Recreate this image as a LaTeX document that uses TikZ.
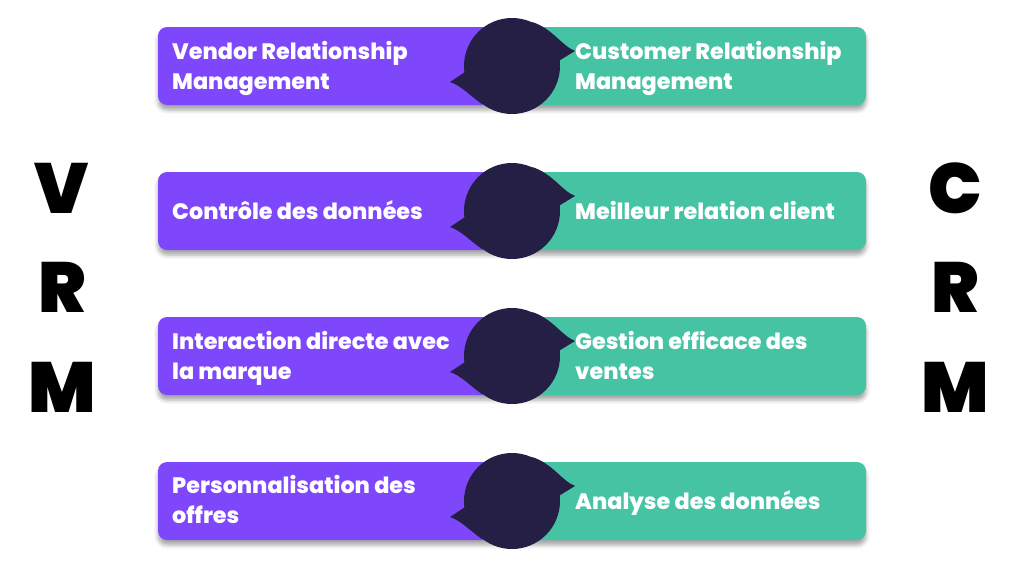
\documentclass[tikz,border=0pt]{standalone}
\usepackage{fontspec}
\setmainfont{Poppins}
\newfontfamily\popx{Poppins ExtraBold}
\newfontfamily\popk{Poppins Black}
\usetikzlibrary{shadows.blur}
\definecolor{vpurple}{HTML}{7F47FB}
\definecolor{cgreen}{HTML}{46C3A3}
\definecolor{bubble}{HTML}{251E45}
\begin{document}
\begin{tikzpicture}[x=1pt,y=-1pt,
  box/.style={rounded corners=9pt, blur shadow={shadow xshift=0pt,shadow yshift=-5pt,shadow blur radius=4pt,shadow opacity=35}},
  lbl/.style={text=white,font=\fontsize{22.3}{30}\selectfont\popx,anchor=west,align=left,inner sep=0pt},
  big/.style={font=\fontsize{71}{71}\selectfont\popk,inner sep=0pt},
  bub/.style={circle,fill=bubble,minimum size=96pt,inner sep=0pt}]
\useasboundingbox (0,0) rectangle (1024,576);
\foreach \y/\n in {66/1,211/2,356/3,501/4}{
  \fill[vpurple, box] (158,\y-39) rectangle (525,\y+39);
  \fill[cgreen, box] (500,\y-39) rectangle (866,\y+39);
  \node[bub] (b\n) at (512,\y) {};
  \begin{scope}[shift={(512,\y)}]
    \fill[bubble] (20,-44) .. controls (40,-38) and (50,-20) .. (63,-15) -- (45,-4) -- (0,0) -- cycle;
    \fill[bubble] (-47,6) -- (-62,16) .. controls (-50,20) and (-42,30) .. (-30,38) -- (0,0) -- cycle;
  \end{scope}
}
\node[lbl] (l1) at (172,68) {\strut Vendor Relationship\\\strut Management};
\node[lbl] (r1) at (575,68) {\strut Customer Relationship\\\strut Management};
\node[lbl] (l2) at (172,213) {\strut Contrôle des données};
\node[lbl] (r2) at (575,213) {\strut Meilleur relation client};
\node[lbl] (l3) at (172,358) {\strut Interaction directe avec\\\strut la marque};
\node[lbl] (r3) at (575,358) {\strut Gestion efficace des\\\strut ventes};
\node[lbl] (l4) at (172,502) {\strut Personnalisation des\\\strut offres};
\node[lbl] (r4) at (575,503) {\strut Analyse des données};
\node[big] (v) at (62,188) {V};
\node[big] (vr) at (62,287) {R};
\node[big] (vm) at (62,387) {M};
\node[big] (c) at (955,188) {C};
\node[big] (cr) at (955,287) {R};
\node[big] (cm) at (955,387) {M};
\end{tikzpicture}
\end{document}
